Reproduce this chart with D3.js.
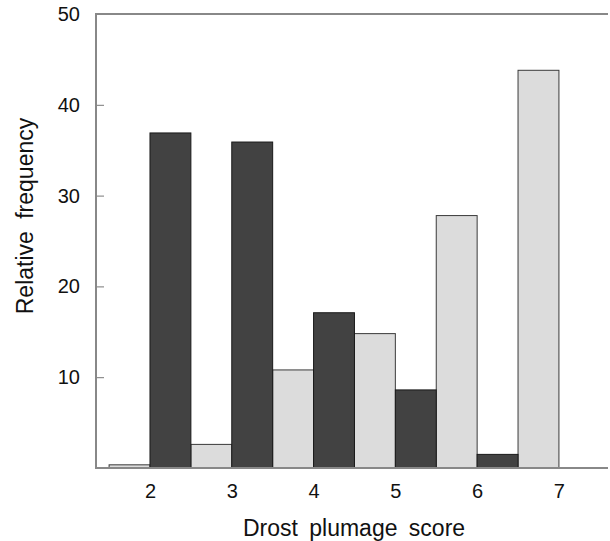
<!DOCTYPE html>
<html>
<head>
<meta charset="utf-8">
<script src="https://cdn.jsdelivr.net/npm/d3@7"></script>
<style>
  body { margin: 0; background: #fff; }
  svg text { font-family: "Liberation Sans", Arial, sans-serif; fill: #111; }
</style>
</head>
<body>
<svg id="chart"></svg>
<script>
const scores = [2, 3, 4, 5, 6, 7];
const lightValues = [0.35, 2.6, 10.8, 14.8, 27.8, 43.8];
const darkValues = [36.9, 35.9, 17.1, 8.6, 1.5, 0];
const yTicks = [10, 20, 30, 40, 50];

const width = 610, height = 541;
const margin = { top: 14, right: 2, bottom: 73, left: 96 }; // plot box edges

const svg = d3.select("#chart").attr("width", width).attr("height", height);

const x = d3.scaleLinear()
    .domain([1.34, 7.6])
    .range([margin.left, width - margin.right]);
const y = d3.scaleLinear()
    .domain([0, 50])
    .range([height - margin.bottom, margin.top]);

const barW = x(2.5) - x(2);

// light bars sit left of each score, dark bars to the right
svg.append("g").selectAll("rect")
    .data(scores.map((s, i) => ({ s, v: lightValues[i] })))
    .enter()
    .append("rect")
    .attr("x", (d) => x(d.s) - barW)
    .attr("y", (d) => y(d.v))
    .attr("width", barW)
    .attr("height", (d) => y(0) - y(d.v))
    .attr("fill", "#dcdcdc")
    .attr("stroke", "#3a3a3a")
    .attr("stroke-width", 1);

svg.append("g").selectAll("rect")
    .data(scores.map((s, i) => ({ s, v: darkValues[i] })).filter((d) => d.v > 0))
    .enter()
    .append("rect")
    .attr("x", (d) => x(d.s))
    .attr("y", (d) => y(d.v))
    .attr("width", barW)
    .attr("height", (d) => y(0) - y(d.v))
    .attr("fill", "#424242")
    .attr("stroke", "#1a1a1a")
    .attr("stroke-width", 1);

// Left axis with inward ticks
const yAxis = svg.append("g")
    .attr("transform", `translate(${margin.left},0)`)
    .call(d3.axisLeft(y).tickValues(yTicks).tickSize(-8).tickPadding(16));
yAxis.select(".domain").remove();
yAxis.selectAll("line").attr("stroke", "#777");
yAxis.selectAll("text").style("font-size", "20px").attr("fill", "#111");

// Bottom axis, labels only
const xAxis = svg.append("g")
    .attr("transform", `translate(0,${y(0)})`)
    .call(d3.axisBottom(x).tickValues(scores).tickFormat(d3.format("d")).tickSize(0).tickPadding(16));
xAxis.select(".domain").remove();
xAxis.selectAll("text").style("font-size", "20px").attr("fill", "#111");

// Frame lines: left, top, bottom
svg.append("path")
    .attr("d", `M${x.range()[1]},${y(50)}H${x.range()[0]}V${y(0)}H${x.range()[1]}`)
    .attr("fill", "none")
    .attr("stroke", "#888")
    .attr("stroke-width", 2);

svg.append("text")
    .attr("x", 354)
    .attr("y", 536)
    .attr("text-anchor", "middle")
    .style("font-size", "23px")
    .attr("word-spacing", 5)
    .text("Drost plumage score");

svg.append("text")
    .attr("transform", "translate(33,216) rotate(-90)")
    .attr("text-anchor", "middle")
    .style("font-size", "23px")
    .attr("word-spacing", 6)
    .text("Relative frequency");
</script>
</body>
</html>
